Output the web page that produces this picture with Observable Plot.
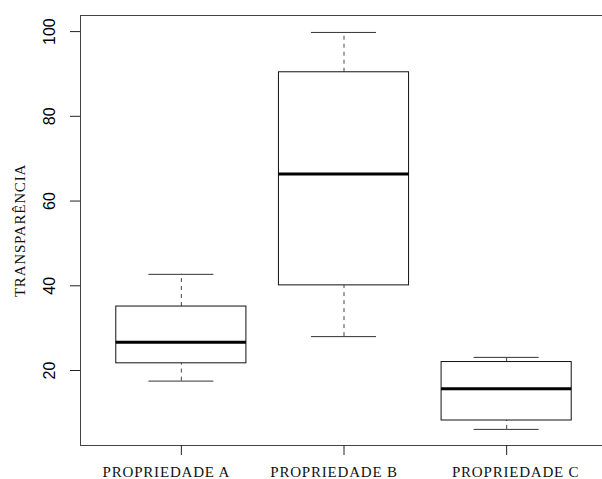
<!DOCTYPE html>
<html><head><meta charset="utf-8">
<script src="https://cdn.jsdelivr.net/npm/d3@7"></script>
<script src="https://cdn.jsdelivr.net/npm/@observablehq/plot@0.6"></script>
<style>
html,body{margin:0;padding:0;background:#fff;overflow:hidden}
svg [aria-label="text"] text {letter-spacing:0.8px}
</style>
</head><body><div id="chart"></div>
<script>
const categories = ["PROPRIEDADE A", "PROPRIEDADE B", "PROPRIEDADE C"];
const whiskerLow = [17.5, 28.0, 6.1];
const q1 = [21.7, 40.1, 8.2];
const median = [26.7, 66.4, 15.7];
const q3 = [35.1, 90.4, 22.0];
const whiskerHigh = [42.7, 99.8, 23.1];
const yTicks = [20, 40, 60, 80, 100];
const yTitle = "TRANSPARÊNCIA";

const data = categories.map((c, i) => ({c, pos: i + 1, lo: whiskerLow[i], q1: q1[i], med: median[i], q3: q3[i], hi: whiskerHigh[i]}));
const boxHalf = 0.4, capHalf = 0.2;
const labelShift = [-15, -10, 9];
const serif = "'Liberation Serif', 'Times New Roman', serif";
const sans = "'Liberation Sans', Arial, sans-serif";

const chart = Plot.plot({
  width: 602, height: 479,
  marginLeft: 80, marginRight: -5, marginTop: 15, marginBottom: 34,
  x: {domain: [0.38, 3.62], axis: null},
  y: {domain: [2.3, 103.8], axis: null},
  marks: [
    Plot.frame({stroke: "#444"}),
    Plot.ruleX(data, {x: "pos", y1: "q3", y2: "hi", stroke: "#444", strokeDasharray: "4,4"}),
    Plot.ruleX(data, {x: "pos", y1: "lo", y2: "q1", stroke: "#444", strokeDasharray: "4,4"}),
    Plot.ruleY(data, {y: "hi", x1: d => d.pos - capHalf, x2: d => d.pos + capHalf, stroke: "#333"}),
    Plot.ruleY(data, {y: "lo", x1: d => d.pos - capHalf, x2: d => d.pos + capHalf, stroke: "#333"}),
    Plot.rect(data, {x1: d => d.pos - boxHalf, x2: d => d.pos + boxHalf, y1: "q1", y2: "q3", fill: "white", stroke: "#111"}),
    Plot.ruleY(data, {y: "med", x1: d => d.pos - boxHalf, x2: d => d.pos + boxHalf, stroke: "black", strokeWidth: 3}),
    Plot.axisX({ticks: data.map(d => d.pos), tickFormat: () => "", tickSize: 10, label: null, stroke: "#222"}),
    ...data.map((d, i) => Plot.text([d], {x: "pos", text: "c", frameAnchor: "bottom", lineAnchor: "top", dy: 21, dx: labelShift[i], fontFamily: serif, fontSize: 15, fill: "#111"})),
    Plot.axisY({ticks: yTicks, tickSize: 10, tickPadding: 21, tickRotate: -90, textAnchor: "middle", lineAnchor: "middle", fontSize: 16, fontFamily: sans, label: null, stroke: "#222"}),
    Plot.text([yTitle], {frameAnchor: "left", textAnchor: "middle", dx: -60, rotate: -90, fontFamily: serif, fontSize: 15, fill: "#111"})
  ]
});
document.getElementById("chart").appendChild(chart);
</script>
</body></html>
